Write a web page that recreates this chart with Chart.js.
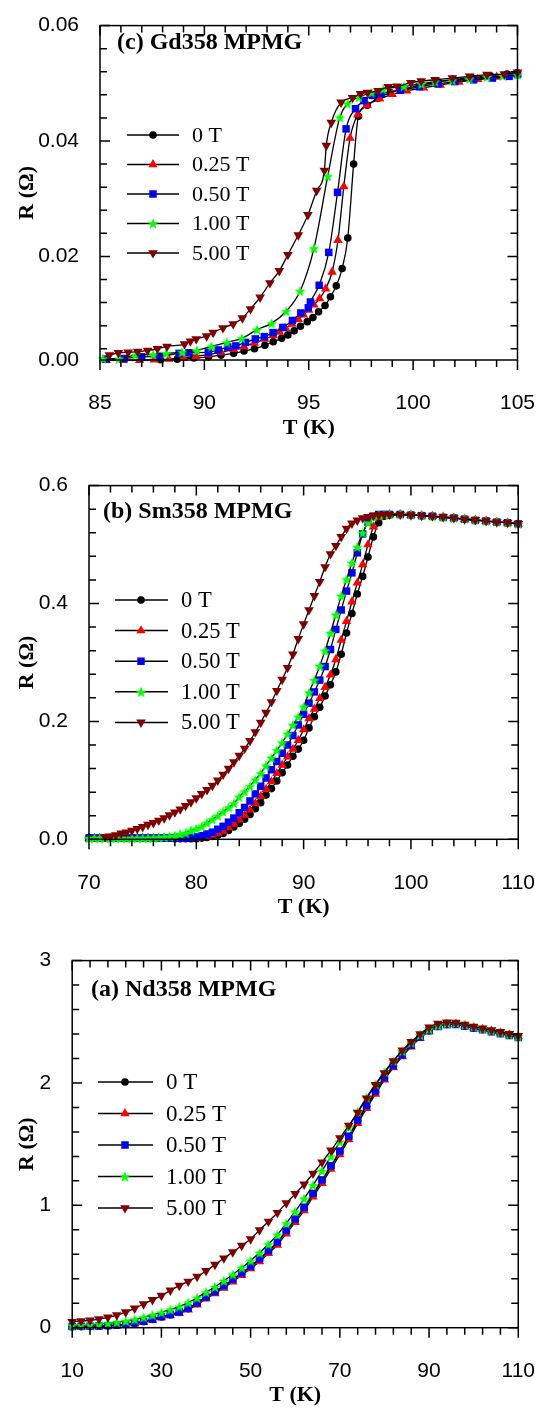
<!DOCTYPE html>
<html>
<head>
<meta charset="utf-8">
<script src="https://cdn.jsdelivr.net/npm/chart.js@4.4.1/dist/chart.umd.min.js"></script>
<style>
  html, body { margin: 0; padding: 0; background: #fff; }
  body { width: 558px; height: 1412px; position: relative; overflow: hidden; }
  canvas { position: absolute; left: 0; }
</style>
</head>
<body>
<canvas id="gd"></canvas>
<canvas id="sm"></canvas>
<canvas id="nd"></canvas>
<script>
// legend entries, same order in every panel
const fieldLabels = ["0 T", "0.25 T", "0.50 T", "1.00 T", "5.00 T"];

// (c) Gd358 MPMG - each field has its own temperatures
const gdT0 = [87.9, 88.7, 89.5, 90.2, 90.8, 91.4, 91.9, 92.4, 92.9, 93.3, 93.7, 94.0, 94.3, 94.6, 94.93, 95.2, 95.47, 95.78, 96.04, 96.32, 96.6, 96.87, 97.15, 97.38, 97.8, 98.3, 98.9, 99.6, 100.4, 101.2, 101.9, 102.8, 103.7, 104.5, 105.0];
const gdR0 = [0.0021, 0.0022, 0.0024, 0.0026, 0.0029, 0.0032, 0.0036, 0.0040, 0.0046, 0.0052, 0.0058, 0.0064, 0.0071, 0.0079, 0.0087, 0.0094, 0.0104, 0.0115, 0.0130, 0.0149, 0.0179, 0.0232, 0.0360, 0.0443, 0.0462, 0.0474, 0.0484, 0.0491, 0.0497, 0.0502, 0.0507, 0.0510, 0.0513, 0.0516, 0.0518];
const gdT1 = [85.3, 86.1, 86.9, 87.6, 88.3, 89.0, 89.6, 90.2, 90.8, 91.4, 91.9, 92.4, 92.9, 93.3, 93.6, 93.9, 94.2, 94.5, 94.75, 95.0, 95.25, 95.52, 95.81, 96.12, 96.4, 96.68, 96.98, 97.35, 97.8, 98.4, 99.0, 99.7, 100.5, 101.3, 102.2, 103.1, 104.0, 105.0];
const gdR1 = [0.0020, 0.0020, 0.0020, 0.0021, 0.0022, 0.0024, 0.0027, 0.0030, 0.0034, 0.0039, 0.0044, 0.0050, 0.0057, 0.0063, 0.0069, 0.0075, 0.0083, 0.0091, 0.0099, 0.0107, 0.0116, 0.0127, 0.0144, 0.0173, 0.0228, 0.0321, 0.0405, 0.0446, 0.0462, 0.0473, 0.0481, 0.0487, 0.0492, 0.0497, 0.0502, 0.0507, 0.0511, 0.0516];
const gdT2 = [85.3, 86.15, 87.0, 87.86, 88.79, 89.26, 90.19, 90.66, 91.12, 91.51, 91.97, 92.44, 92.87, 93.29, 93.76, 94.22, 94.62, 94.98, 95.08, 95.5, 95.96, 96.38, 96.79, 97.24, 97.65, 98.07, 98.48, 99.39, 100.3, 101.2, 102.0, 102.9, 103.8, 104.6, 105.0];
const gdR2 = [0.0022, 0.0023, 0.0026, 0.0027, 0.0032, 0.0033, 0.0034, 0.0038, 0.0043, 0.0045, 0.0051, 0.0057, 0.0061, 0.0068, 0.0077, 0.0089, 0.0102, 0.0111, 0.0121, 0.0150, 0.0207, 0.0311, 0.0421, 0.0456, 0.0470, 0.0479, 0.0482, 0.0488, 0.0494, 0.0499, 0.0503, 0.0506, 0.0509, 0.0512, 0.0515];
const gdT3 = [85.14, 85.91, 86.69, 87.55, 88.17, 88.94, 89.64, 90.34, 91.07, 91.79, 92.52, 93.22, 93.92, 94.59, 95.25, 95.91, 96.49, 96.86, 97.4, 98.0, 98.57, 99.56, 100.4, 101.05, 101.88, 102.7, 103.54, 104.3, 105.0];
const gdR3 = [0.0023, 0.0023, 0.0029, 0.0030, 0.0032, 0.0034, 0.0037, 0.0044, 0.0051, 0.0058, 0.0073, 0.0084, 0.0105, 0.0140, 0.0214, 0.0339, 0.0441, 0.0465, 0.0476, 0.0484, 0.0490, 0.0495, 0.0499, 0.0503, 0.0505, 0.0508, 0.0511, 0.0513, 0.0515];
const gdT4 = [85.45, 85.88, 86.35, 86.81, 87.28, 87.75, 88.21, 89.05, 89.33, 89.61, 90.11, 90.42, 90.89, 91.38, 91.82, 92.21, 92.67, 93.14, 93.59, 94.0, 94.5, 94.96, 95.38, 95.75, 95.84, 96.08, 96.55, 97.1, 97.48, 97.82, 98.32, 98.81, 99.23, 99.89, 100.39, 101.05, 101.88, 102.71, 103.54, 104.37, 105.0];
const gdR4 = [0.0029, 0.0033, 0.0034, 0.0035, 0.0037, 0.0040, 0.0044, 0.0048, 0.0053, 0.0057, 0.0062, 0.0068, 0.0076, 0.0083, 0.0093, 0.0109, 0.0129, 0.0154, 0.0175, 0.0203, 0.0237, 0.0272, 0.0314, 0.0349, 0.0392, 0.0432, 0.0467, 0.0475, 0.0482, 0.0484, 0.0487, 0.0494, 0.0495, 0.0501, 0.0504, 0.0506, 0.0509, 0.0512, 0.0515, 0.0516, 0.0519];

// (b) Sm358 MPMG - shared temperature grid
const smTemps = [70, 70.5, 71, 71.5, 72, 72.5, 73, 73.5, 74, 74.5, 75, 75.5, 76, 76.5, 77, 77.5, 78, 78.5, 79, 79.5,
  80, 80.5, 81, 81.5, 82, 82.5, 83, 83.5, 84, 84.5, 85, 85.5, 86, 86.5, 87, 87.5, 88, 88.5, 89, 89.5,
  90, 90.5, 91, 91.5, 92, 92.5, 93, 93.5, 94, 94.5, 95, 95.5, 96, 96.5, 97, 97.5, 98,
  99, 100, 101, 102, 103, 104, 105, 106, 107, 108, 109, 110];
const smR0 = [0.003, 0.002, 0.002, 0.002, 0.002, 0.002, 0.002, 0.002, 0.002, 0.002, 0.002, 0.002, 0.002, 0.002, 0.002, 0.002, 0.001, 0.001, 0.001, 0.001,
  0.001, 0.002, 0.003, 0.005, 0.007, 0.010, 0.015, 0.021, 0.027, 0.034, 0.042, 0.052, 0.062, 0.075, 0.086, 0.099, 0.113, 0.126, 0.141, 0.153,
  0.168, 0.189, 0.208, 0.224, 0.243, 0.262, 0.284, 0.314, 0.350, 0.383, 0.416, 0.446, 0.479, 0.513, 0.537, 0.548, 0.550,
  0.551, 0.550, 0.549, 0.548, 0.546, 0.545, 0.543, 0.541, 0.540, 0.538, 0.537, 0.535];
const smR1 = [0.002, 0.002, 0.002, 0.002, 0.002, 0.002, 0.002, 0.002, 0.002, 0.002, 0.002, 0.002, 0.002, 0.002, 0.002, 0.002, 0.002, 0.002, 0.002, 0.002,
  0.002, 0.003, 0.005, 0.007, 0.010, 0.014, 0.020, 0.026, 0.033, 0.041, 0.050, 0.061, 0.073, 0.085, 0.098, 0.112, 0.126, 0.140, 0.153, 0.168,
  0.186, 0.205, 0.221, 0.239, 0.258, 0.279, 0.305, 0.338, 0.370, 0.403, 0.435, 0.466, 0.500, 0.530, 0.546, 0.550, 0.551,
  0.551, 0.550, 0.549, 0.548, 0.547, 0.545, 0.543, 0.542, 0.540, 0.538, 0.537, 0.535];
const smR2 = [0.002, 0.002, 0.002, 0.002, 0.002, 0.002, 0.002, 0.002, 0.002, 0.002, 0.002, 0.002, 0.002, 0.002, 0.002, 0.002, 0.002, 0.002, 0.002, 0.003,
  0.004, 0.006, 0.009, 0.012, 0.017, 0.022, 0.029, 0.036, 0.045, 0.054, 0.065, 0.077, 0.090, 0.104, 0.118, 0.132, 0.146, 0.160, 0.176, 0.194,
  0.212, 0.231, 0.250, 0.270, 0.293, 0.322, 0.356, 0.389, 0.421, 0.452, 0.486, 0.518, 0.538, 0.548, 0.551, 0.551, 0.551,
  0.551, 0.550, 0.549, 0.548, 0.546, 0.545, 0.543, 0.541, 0.540, 0.538, 0.537, 0.535];
const smR3 = [0.002, 0.002, 0.002, 0.002, 0.002, 0.002, 0.002, 0.002, 0.002, 0.002, 0.002, 0.002, 0.003, 0.003, 0.004, 0.005, 0.006, 0.009, 0.011, 0.015,
  0.018, 0.022, 0.028, 0.034, 0.040, 0.047, 0.054, 0.061, 0.072, 0.081, 0.090, 0.101, 0.112, 0.125, 0.138, 0.151, 0.164, 0.179, 0.194, 0.208,
  0.225, 0.249, 0.270, 0.294, 0.320, 0.350, 0.381, 0.413, 0.441, 0.469, 0.496, 0.520, 0.537, 0.547, 0.550, 0.551, 0.552,
  0.552, 0.551, 0.550, 0.548, 0.547, 0.545, 0.544, 0.542, 0.540, 0.539, 0.537, 0.535];
const smR4 = [null, null, null, 0.004, 0.005, 0.007, 0.010, 0.012, 0.015, 0.018, 0.021, 0.025, 0.028, 0.032, 0.036, 0.041, 0.046, 0.051, 0.057, 0.063,
  0.070, 0.077, 0.084, 0.091, 0.100, 0.110, 0.120, 0.131, 0.142, 0.154, 0.167, 0.182, 0.198, 0.215, 0.233, 0.252, 0.271, 0.291, 0.314, 0.340,
  0.365, 0.389, 0.413, 0.437, 0.462, 0.484, 0.498, 0.513, 0.527, 0.536, 0.541, 0.545, 0.547, 0.549, 0.550, 0.551, 0.551,
  0.551, 0.550, 0.549, 0.548, 0.547, 0.545, 0.543, 0.542, 0.540, 0.538, 0.537, 0.535];

// (a) Nd358 MPMG - shared temperature grid
const ndTemps = [10, 12, 14, 16, 18, 20, 22, 24, 26, 28, 30, 32, 34, 36, 38, 40, 42, 44, 46, 48,
  50, 52, 54, 56, 58, 60, 62, 64, 66, 68, 70, 72, 74, 76, 78, 80, 82, 84, 86, 88,
  90, 92, 94, 96, 98, 100, 102, 104, 106, 108, 110];
const ndR0 = [0.008, 0.009, 0.010, 0.012, 0.015, 0.020, 0.028, 0.037, 0.050, 0.068, 0.088, 0.105, 0.125, 0.155, 0.198, 0.247, 0.290, 0.337, 0.389, 0.441,
  0.497, 0.556, 0.623, 0.692, 0.787, 0.880, 0.975, 1.090, 1.200, 1.315, 1.435, 1.557, 1.690, 1.810, 1.928, 2.040, 2.138, 2.228, 2.306, 2.373,
  2.427, 2.462, 2.478, 2.480, 2.465, 2.450, 2.437, 2.420, 2.405, 2.390, 2.375];
const ndR1 = [0.005, 0.006, 0.007, 0.009, 0.012, 0.017, 0.024, 0.033, 0.045, 0.062, 0.082, 0.099, 0.118, 0.146, 0.188, 0.236, 0.279, 0.325, 0.376, 0.428,
  0.483, 0.541, 0.607, 0.676, 0.768, 0.862, 0.957, 1.070, 1.180, 1.296, 1.415, 1.538, 1.670, 1.792, 1.910, 2.025, 2.125, 2.216, 2.296, 2.365,
  2.420, 2.458, 2.476, 2.479, 2.468, 2.453, 2.440, 2.425, 2.410, 2.395, 2.380];
const ndR2 = [0.010, 0.011, 0.012, 0.014, 0.017, 0.022, 0.030, 0.040, 0.053, 0.071, 0.091, 0.108, 0.129, 0.160, 0.203, 0.251, 0.295, 0.343, 0.395, 0.447,
  0.503, 0.563, 0.630, 0.700, 0.795, 0.888, 0.984, 1.098, 1.208, 1.323, 1.443, 1.565, 1.697, 1.817, 1.934, 2.045, 2.142, 2.231, 2.309, 2.375,
  2.428, 2.462, 2.477, 2.478, 2.463, 2.448, 2.435, 2.418, 2.403, 2.388, 2.372];
const ndR3 = [0.020, 0.022, 0.025, 0.030, 0.036, 0.044, 0.055, 0.068, 0.085, 0.105, 0.125, 0.148, 0.173, 0.205, 0.245, 0.290, 0.333, 0.383, 0.435, 0.490,
  0.548, 0.612, 0.682, 0.760, 0.853, 0.950, 1.055, 1.165, 1.282, 1.400, 1.520, 1.640, 1.765, 1.880, 1.990, 2.090, 2.180, 2.260, 2.330, 2.392,
  2.440, 2.470, 2.487, 2.490, 2.475, 2.460, 2.443, 2.427, 2.412, 2.396, 2.380];
const ndR4 = [0.049, 0.055, 0.060, 0.070, 0.085, 0.103, 0.128, 0.158, 0.193, 0.228, 0.262, 0.305, 0.344, 0.378, 0.418, 0.464, 0.516, 0.568, 0.618, 0.671,
  0.724, 0.798, 0.868, 0.940, 1.018, 1.094, 1.172, 1.260, 1.352, 1.449, 1.550, 1.653, 1.758, 1.875, 1.985, 2.082, 2.180, 2.266, 2.336, 2.400,
  2.455, 2.485, 2.495, 2.493, 2.478, 2.462, 2.447, 2.433, 2.418, 2.402, 2.385];

// axis tick labels
const gdXTicks = [85, 90, 95, 100, 105];
const gdYTicks = [0.00205, 0.02, 0.04, 0.06];
const smXTicks = [70, 80, 90, 100, 110];
const smYTicks = [0, 0.2, 0.4, 0.6];
const ndXTicks = [10, 30, 50, 70, 90, 110];
const ndYTicks = [0, 1, 2, 3];

// ---------- look ----------
const SANS = "'Liberation Sans', Arial, sans-serif";
const SERIF = "'Liberation Serif', 'Times New Roman', serif";

// filled five point star for the 1.00 T marker
function makeStar(color, R) {
  const c = document.createElement('canvas');
  const s = Math.ceil(R * 2 + 2);
  c.width = s; c.height = s;
  const g = c.getContext('2d');
  g.fillStyle = color;
  g.beginPath();
  for (let i = 0; i < 10; i++) {
    const r = i % 2 ? R * 0.42 : R;
    const a = -Math.PI / 2 + i * Math.PI / 5;
    g.lineTo(s / 2 + r * Math.cos(a), s / 2 + 0.6 + r * Math.sin(a));
  }
  g.closePath();
  g.fill();
  return c;
}
const starImg = makeStar('#00ff00', 5.8);

const markers = [
  { color: '#000000', style: 'circle', radius: 3.8, rotation: 0 },
  { color: '#ff0000', style: 'triangle', radius: 5.4, rotation: 0 },
  { color: '#0000ff', style: 'rect', radius: 5.3, rotation: 0 },
  { color: '#00ff00', style: starImg, radius: 5.8, rotation: 0 },
  { color: '#800000', style: 'triangle', radius: 5.6, rotation: 180 }
];

function drawMarker(ctx, m, x, y) {
  ctx.save();
  ctx.fillStyle = m.color;
  ctx.beginPath();
  if (m.style === 'circle') {
    ctx.arc(x, y, m.radius, 0, Math.PI * 2);
  } else if (m.style === 'rect') {
    const h = m.radius * Math.SQRT1_2;
    ctx.rect(x - h, y - h, 2 * h, 2 * h);
  } else if (m.style === 'triangle') {
    const d = m.rotation ? -1 : 1;
    const r = m.radius;
    ctx.moveTo(x, y - d * r);
    ctx.lineTo(x + r * 0.866, y + d * r / 2);
    ctx.lineTo(x - r * 0.866, y + d * r / 2);
    ctx.closePath();
  } else {
    ctx.drawImage(m.style, x - m.style.width / 2, y - m.style.height / 2);
    ctx.restore();
    return;
  }
  ctx.fill();
  ctx.restore();
}

// frame, tick marks, panel label and legend
const panelPlugin = {
  id: 'panel',
  afterDatasetsDraw(chart, args, o) {
    const ctx = chart.ctx;
    const a = chart.chartArea;
    const xs = chart.scales.x, ys = chart.scales.y;
    ctx.save();
    ctx.strokeStyle = '#000';
    ctx.lineWidth = 1.5;
    ctx.strokeRect(a.left, a.top, a.right - a.left, a.bottom - a.top);
    ctx.beginPath();
    const tick = (vals, len) => {
      vals.forEach(v => {
        const px = xs.getPixelForValue(v);
        ctx.moveTo(px, a.bottom); ctx.lineTo(px, a.bottom + len);
        ctx.moveTo(px, a.top); ctx.lineTo(px, a.top + len);
      });
    };
    const ytick = (vals, len) => {
      vals.forEach(v => {
        const py = ys.getPixelForValue(v);
        ctx.moveTo(a.left, py); ctx.lineTo(a.left + len, py);
        ctx.moveTo(a.right, py); ctx.lineTo(a.right - len, py);
      });
    };
    tick(o.xMajor, 10);
    tick(o.xMinor, 7);
    ytick(o.yMajor, 10);
    ytick(o.yMinor, 7);
    ctx.stroke();

    // panel label
    ctx.fillStyle = '#000';
    ctx.font = 'bold 24px ' + SERIF;
    ctx.textBaseline = 'middle';
    ctx.textAlign = 'left';
    ctx.fillText(o.label, o.labelX, o.labelY);

    // legend
    const L = o.legend;
    ctx.font = L.size + 'px ' + SERIF;
    fieldLabels.forEach((t, i) => {
      const y = L.y0 + i * L.dy;
      ctx.beginPath();
      ctx.lineWidth = 1.5;
      ctx.moveTo(L.x1, y); ctx.lineTo(L.x2, y);
      ctx.stroke();
      drawMarker(ctx, markers[i], L.xm, y);
      ctx.fillStyle = '#000';
      ctx.fillText(t, L.xt, y + 1);
    });
    ctx.restore();
  }
};

function range(from, to, step, skip) {
  const out = [];
  for (let v = from; v <= to + step / 10; v += step) {
    const r = Math.round(v * 10000) / 10000;
    if (!skip.some(s => Math.abs(s - r) < step / 10)) out.push(r);
  }
  return out;
}

function makePanel(id, box, xsData, ysData, axes, deco) {
  const cv = document.getElementById(id);
  cv.width = 558; cv.height = box.canvasH;
  cv.style.top = box.canvasTop + 'px';
  cv.style.width = '558px'; cv.style.height = box.canvasH + 'px';

  const datasets = ysData.map((ys, i) => {
    const xs = xsData[i];
    const m = markers[i];
    return {
      label: fieldLabels[i],
      data: xs.map((x, k) => ({ x: x, y: ys[k] })),
      borderColor: '#000',
      borderWidth: 1.3,
      cubicInterpolationMode: 'monotone',
      pointStyle: m.style,
      pointRotation: m.rotation,
      pointRadius: m.radius,
      pointBackgroundColor: m.color,
      pointBorderColor: m.color,
      pointBorderWidth: 0,
      clip: false,
      order: 4 - i
    };
  });

  const tickFont = { family: SANS, size: 21 };
  const titleFont = { family: SERIF, size: 22, weight: 'bold' };

  return new Chart(cv, {
    type: 'line',
    data: { datasets: datasets },
    plugins: [panelPlugin],
    options: {
      responsive: false,
      devicePixelRatio: 1,
      animation: false,
      events: [],
      layout: { padding: { top: box.top - box.canvasTop, right: 558 - box.right, left: 0, bottom: 0 } },
      plugins: {
        legend: { display: false },
        tooltip: { enabled: false },
        panel: deco
      },
      scales: {
        x: {
          type: 'linear',
          min: axes.xMin, max: axes.xMax,
          afterBuildTicks: s => { s.ticks = axes.xTicks.map(v => ({ value: v })); },
          afterFit: s => { s.height = box.canvasH - (box.bottom - box.canvasTop); },
          grid: { display: false },
          border: { display: false },
          ticks: { font: tickFont, color: '#000', padding: 23, maxRotation: 0, autoSkip: false,
                   callback: v => String(Math.round(v)) },
          title: { display: true, text: 'T (K)', font: titleFont, color: '#000', padding: { top: 0, bottom: 3 } }
        },
        y: {
          type: 'linear',
          min: axes.yMin, max: axes.yMax,
          afterBuildTicks: s => { s.ticks = axes.yTicks.map(v => ({ value: v })); },
          afterFit: s => { s.width = box.left; },
          grid: { display: false },
          border: { display: false },
          ticks: { font: tickFont, color: '#000', padding: 13, autoSkip: false,
                   callback: v => v.toFixed(axes.yDigits) },
          title: { display: true, text: 'R (\u03A9)', font: titleFont, color: '#000', padding: { top: 14, bottom: 0 } }
        }
      }
    }
  });
}

// (c) Gd358
makePanel('gd',
  { canvasTop: 0, canvasH: 445, left: 100, right: 529, top: 12.3, bottom: 360 },
  [gdT0, gdT1, gdT2, gdT3, gdT4],
  [gdR0, gdR1, gdR2, gdR3, gdR4],
  { xMin: 85, xMax: 105, xTicks: gdXTicks, yMin: 0.00205, yMax: 0.06, yTicks: gdYTicks, yDigits: 2 },
  { label: '(c) Gd358 MPMG', labelX: 117, labelY: 43,
    xMajor: gdXTicks, xMinor: range(85, 105, 1, gdXTicks),
    yMajor: gdYTicks.slice(1), yMinor: range(0.004, 0.056, 0.004, [0.02, 0.04]),
    legend: { x1: 127, x2: 179, xm: 153, xt: 192, y0: 135, dy: 29.5, size: 22 } });

// (b) Sm358
makePanel('sm',
  { canvasTop: 460, canvasH: 464, left: 89, right: 528, top: 481, bottom: 839.3 },
  [smTemps, smTemps, smTemps, smTemps, smTemps],
  [smR0, smR1, smR2, smR3, smR4],
  { xMin: 70, xMax: 110, xTicks: smXTicks, yMin: 0, yMax: 0.6, yTicks: smYTicks, yDigits: 1 },
  { label: '(b) Sm358 MPMG', labelX: 103, labelY: 52,
    xMajor: smXTicks, xMinor: range(70, 110, 2, smXTicks),
    yMajor: smYTicks, yMinor: range(0, 0.6, 0.04, smYTicks),
    legend: { x1: 115, x2: 168, xm: 141, xt: 181, y0: 140, dy: 30.6, size: 22.5 } });

// (a) Nd358
makePanel('nd',
  { canvasTop: 935, canvasH: 477, left: 72.2, right: 525.6, top: 957.3, bottom: 1327.7 },
  [ndTemps, ndTemps, ndTemps, ndTemps, ndTemps],
  [ndR0, ndR1, ndR2, ndR3, ndR4],
  { xMin: 10, xMax: 110, xTicks: ndXTicks, yMin: 0, yMax: 3, yTicks: ndYTicks, yDigits: 0 },
  { label: '(a) Nd358 MPMG', labelX: 91, labelY: 55,
    xMajor: ndXTicks, xMinor: range(10, 110, 4, ndXTicks),
    yMajor: ndYTicks, yMinor: range(0, 3, 0.2, ndYTicks),
    legend: { x1: 98, x2: 153, xm: 125, xt: 166, y0: 147, dy: 31.5, size: 23 } });
</script>
</body>
</html>
